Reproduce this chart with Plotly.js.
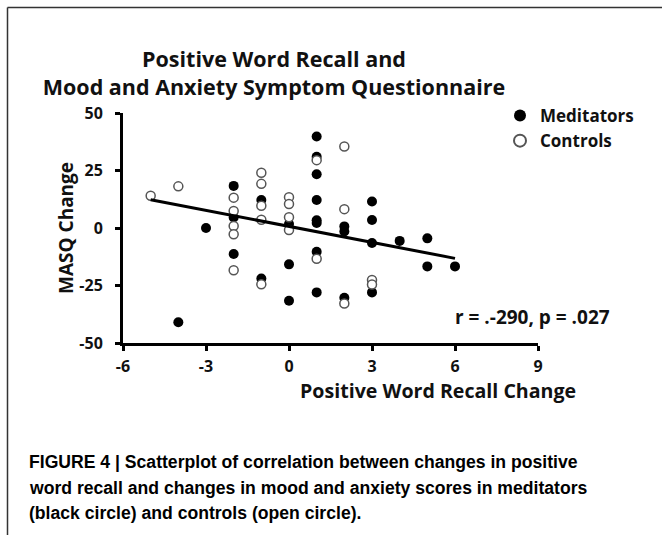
<!DOCTYPE html>
<html>
<head>
<meta charset="utf-8">
<script src="https://cdn.plot.ly/plotly-3.0.1.min.js"></script>
<style>html,body{margin:0;padding:0;background:#fff;}#chart{width:662px;height:535px;}</style>
</head>
<body>
<div id="chart"></div>
<script>
// Meditators (filled circles)
const meditatorsX = [-4, -3, -2, -2, -2, -1, -1, 0, 0, 0, 1, 1, 1, 1, 1, 1, 1, 1, 2, 2, 2, 3, 3, 3, 3, 4, 5, 5, 6];
const meditatorsY = [-41, 0, 18.3, 4.6, -11.3, 12.2, -22, 1.7, -15.8, -31.6, 39.8, 31, 23.4, 12.2, 3.4, 2.2, -10.3, -28, 0.7, -1.5, -30.3, 11.5, 3.5, -6.5, -28, -5.6, -4.5, -16.7, -16.7];
// Controls (open circles)
const controlsX = [-5, -4, -2, -2, -2, -2, -2, -1, -1, -1, -1, -1, 0, 0, 0, 0, 1, 1, 2, 2, 2, 3, 3];
const controlsY = [14, 18.1, 13.2, 7.4, 0.9, -2.7, -18.4, 24, 19.2, 9.7, 3.6, -24.5, 13.4, 10.4, 4.7, -0.9, 29.5, -13.4, 35.4, 8.2, -32.8, -22.6, -24.6];
// Regression line end points as drawn
const trendX = [-5, 6];
const trendY = [12.3, -13.2];
// Axis ticks
const xTicks = [-6, -3, 0, 3, 6, 9];
const yTicks = [-50, -25, 0, 25, 50];

const W = 662, H = 535;
const L = 123, R = 538, T = 113, B = 343;
const px = v => (v - L) / (R - L);
const py = v => (B - v) / (B - T);

const base = "'Open Sans', 'DejaVu Sans', sans-serif";
const capFont = "'Liberation Sans Narrow', 'Arial Narrow', 'Liberation Sans', sans-serif";

const traces = [
  {
    x: meditatorsX, y: meditatorsY, type: 'scatter', mode: 'markers', name: 'Meditators',
    marker: {color: '#000', size: 10, line: {width: 0}}
  },
  {
    x: controlsX, y: controlsY, type: 'scatter', mode: 'markers', name: 'Controls',
    marker: {color: '#fff', size: 9, line: {color: '#555', width: 1.5}}
  },
  {
    x: trendX, y: trendY, type: 'scatter', mode: 'lines', showlegend: false,
    line: {color: '#000', width: 3}, hoverinfo: 'skip'
  }
];

const axisCommon = {
  showgrid: false, zeroline: false, showline: true, linecolor: '#000', linewidth: 3,
  ticks: 'outside', ticklen: 5, tickwidth: 3, tickcolor: '#000',
  tickfont: {family: base, size: 16, color: '#111', weight: 'bold'}
};

const layout = {
  width: W, height: H,
  margin: {l: L, r: W - R, t: T, b: H - B, pad: 0},
  paper_bgcolor: '#fff', plot_bgcolor: '#fff',
  showlegend: true,
  title: {
    text: 'Positive Word Recall and<br>Mood and Anxiety Symptom Questionnaire',
    font: {family: base, size: 21.5, color: '#111', weight: 'bold'},
    xref: 'container', yref: 'container', x: 274 / W, xanchor: 'center',
    y: 1 - 67 / H, yanchor: 'middle'
  },
  xaxis: Object.assign({}, axisCommon, {
    range: [-6, 9], tickvals: xTicks, ticktext: xTicks.map(String), ticklabelstandoff: 2
  }),
  yaxis: Object.assign({}, axisCommon, {
    range: [-50, 50], tickvals: yTicks, ticktext: yTicks.map(String), ticklabelstandoff: 9
  }),
  legend: {
    x: px(500), y: py(98), xanchor: 'left', yanchor: 'top',
    font: {family: base, size: 17, color: '#111', weight: 'bold'},
    bgcolor: 'rgba(0,0,0,0)', itemsizing: 'constant', tracegroupgap: 0
  },
  annotations: [
    {text: 'Positive Word Recall Change', xref: 'paper', yref: 'paper', x: px(437.5), y: py(390),
     xanchor: 'center', yanchor: 'middle', showarrow: false,
     font: {family: base, size: 19.6, color: '#111', weight: 'bold'}},
    {text: 'MASQ Change', xref: 'paper', yref: 'paper', x: px(66), y: py(228), textangle: -90,
     xanchor: 'center', yanchor: 'middle', showarrow: false,
     font: {family: base, size: 19, color: '#111', weight: 'bold'}},
    {text: 'r = .-290, p = .027', xref: 'paper', yref: 'paper', x: px(453), y: py(316.5),
     xanchor: 'left', yanchor: 'middle', showarrow: false,
     font: {family: base, size: 19, color: '#111', weight: 'bold'}},
    {text: 'FIGURE 4 | Scatterplot of correlation between changes in positive', xref: 'paper', yref: 'paper',
     x: px(27), y: py(462), xanchor: 'left', yanchor: 'middle', showarrow: false,
     font: {family: capFont, size: 17.6, color: '#000', weight: 'bold'}},
    {text: 'word recall and changes in mood and anxiety scores in meditators', xref: 'paper', yref: 'paper',
     x: px(27), y: py(487.5), xanchor: 'left', yanchor: 'middle', showarrow: false,
     font: {family: capFont, size: 17.6, color: '#000', weight: 'bold'}},
    {text: '(black circle) and controls (open circle).', xref: 'paper', yref: 'paper',
     x: px(27), y: py(513), xanchor: 'left', yanchor: 'middle', showarrow: false,
     font: {family: capFont, size: 17.6, color: '#000', weight: 'bold'}}
  ],
  shapes: [
    {type: 'line', xref: 'paper', yref: 'paper', x0: px(7.5), x1: px(662), y0: py(7.5), y1: py(7.5),
     line: {color: '#333', width: 1.5}},
    {type: 'line', xref: 'paper', yref: 'paper', x0: px(7.5), x1: px(7.5), y0: py(7.5), y1: py(535),
     line: {color: '#333', width: 1.5}}
  ]
};

Plotly.newPlot('chart', traces, layout, {staticPlot: true, displayModeBar: false});
</script>
</body>
</html>
